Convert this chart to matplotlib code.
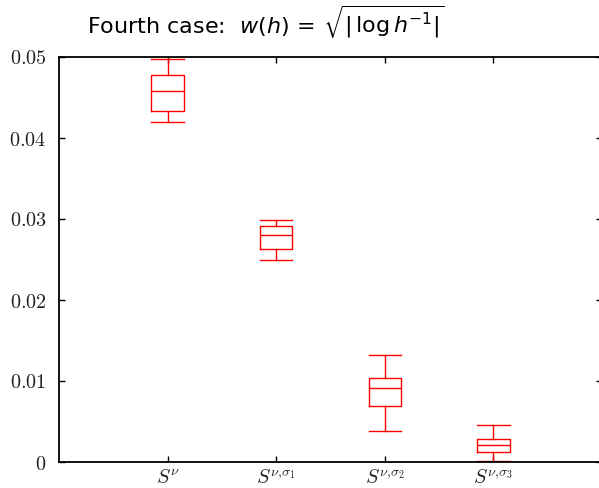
import matplotlib
matplotlib.use("Agg")
import matplotlib.pyplot as plt

labels = [r"$S^{\nu}$", r"$S^{\nu{,}\sigma_1}$", r"$S^{\nu{,}\sigma_2}$", r"$S^{\nu{,}\sigma_3}$"]
whislo = [0.0420, 0.0250, 0.00387, 0.00018]
q1     = [0.04335, 0.02634, 0.00688, 0.00128]
med    = [0.04585, 0.02803, 0.00918, 0.00206]
q3     = [0.04783, 0.02911, 0.01033, 0.00284]
whishi = [0.0497, 0.02988, 0.01325, 0.00461]
yticks = [0, 0.01, 0.02, 0.03, 0.04, 0.05]
ytick_labels = [r"$0$", r"$0.01$", r"$0.02$", r"$0.03$", r"$0.04$", r"$0.05$"]

fig = plt.figure(figsize=(5.99, 4.88), dpi=100)
ax = fig.add_axes([59/599, 26/488, 543/599, 405/488])

stats = []
for i in range(len(labels)):
    stats.append(dict(med=med[i], q1=q1[i], q3=q3[i], whislo=whislo[i], whishi=whishi[i], label=labels[i]))

red = "#ff0000"
lp = dict(color=red, linewidth=1.0)
ax.bxp(stats, positions=[1, 2, 3, 4], widths=0.3, capwidths=0.3, showfliers=False,
       boxprops=lp, whiskerprops=lp, capprops=lp, medianprops=lp)

ax.set_xlim(0, 5)
ax.set_ylim(0, 0.05)
ax.set_yticks(yticks)
ax.set_yticklabels(ytick_labels)
ax.set_xticks([1, 2, 3, 4])
ax.set_xticklabels(labels)
for lab in ax.get_xticklabels() + ax.get_yticklabels():
    lab.set_math_fontfamily("cm")
    lab.set_fontsize(14.5)
    lab.set_color("#222222")
ax.tick_params(axis="both", direction="in", length=4, width=1.0, top=True, right=True)
ax.tick_params(axis="y", pad=9)
ax.tick_params(axis="x", pad=5)
for s in ax.spines.values():
    s.set_linewidth(1.3)

fig.text(266/599, (488-33)/488, r"Fourth case:  $w(h)\,=\,\sqrt{|\,\log h^{-1}|}$",
         ha="center", va="baseline", fontsize=16, math_fontfamily="dejavusans")

fig.savefig("out.png", dpi=100)
